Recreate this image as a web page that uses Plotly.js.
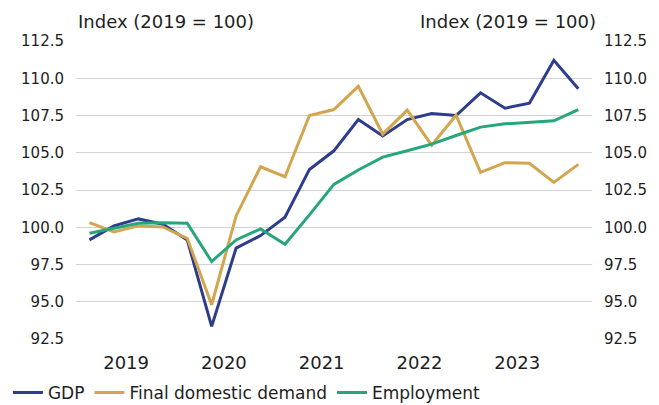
<!DOCTYPE html>
<html>
<head>
<meta charset="utf-8">
<script src="https://cdn.plot.ly/plotly-3.0.1.min.js"></script>
<style>html,body{margin:0;padding:0;background:#fff;}#chart{width:659px;height:405px;}</style>
</head>
<body>
<div id="chart"></div>
<script>
const quarters = ['2019Q1','2019Q2','2019Q3','2019Q4','2020Q1','2020Q2','2020Q3','2020Q4','2021Q1','2021Q2','2021Q3','2021Q4','2022Q1','2022Q2','2022Q3','2022Q4','2023Q1','2023Q2','2023Q3','2023Q4','2024Q1'];
const gdp = [99.15,100.09,100.56,100.2,99.15,93.35,98.6,99.44,100.67,103.88,105.13,107.23,106.12,107.23,107.63,107.5,109.02,107.99,108.33,111.2,109.29];
const finalDemand = [100.31,99.69,100.09,100.02,99.26,94.8,100.76,104.06,103.39,107.5,107.9,109.46,106.25,107.86,105.51,107.52,103.68,104.33,104.29,103.01,104.22];
const employment = [99.6,99.93,100.27,100.31,100.27,97.7,99.15,99.89,98.86,100.83,102.88,103.84,104.71,105.13,105.58,106.16,106.72,106.94,107.05,107.14,107.9];
const yearLabels = ['2019','2020','2021','2022','2023'];
const yTicks = [92.5,95,97.5,100,102.5,105,107.5,110,112.5];
const axisTitle = 'Index (2019 = 100)';

const xIdx = quarters.map((q, i) => i);
// year label sits at the middle of each year's four quarters
const yearPos = yearLabels.map(y => {
  const idx = quarters.map((q, i) => q.startsWith(y) ? i : -1).filter(i => i >= 0);
  return (idx[0] + idx[idx.length - 1]) / 2;
});

const FONT = 'DejaVu Sans, sans-serif';
const TXT = '#1e1e1e';

const traces = [
  {x: xIdx, y: gdp, name: 'GDP', type: 'scatter', mode: 'lines', line: {color: '#2e3d8b', width: 3}, hoverinfo: 'skip'},
  {x: xIdx, y: finalDemand, name: 'Final domestic demand', type: 'scatter', mode: 'lines', line: {color: '#d2a64f', width: 3}, hoverinfo: 'skip'},
  {x: xIdx, y: employment, name: 'Employment', type: 'scatter', mode: 'lines', line: {color: '#26a77b', width: 3}, hoverinfo: 'skip'},
  {x: xIdx, y: gdp, yaxis: 'y2', type: 'scatter', mode: 'lines', line: {width: 0}, opacity: 0, showlegend: false, hoverinfo: 'skip'}
];

const yBase = {
  range: [92.5, 112.5], tickvals: yTicks, ticktext: yTicks.map(v => v.toFixed(1)),
  showgrid: true, gridcolor: '#d3d3d3', gridwidth: 1, zeroline: false, showline: false,
  ticks: '', ticklabelstandoff: 11, tickfont: {family: FONT, size: 15, color: TXT}, fixedrange: true
};

const layout = {
  width: 659, height: 405,
  margin: {l: 76, r: 67, t: 41, b: 66, pad: 0},
  paper_bgcolor: '#fff', plot_bgcolor: '#fff',
  font: {family: FONT, color: TXT},
  showlegend: true,
  legend: {orientation: 'h', xref: 'container', yref: 'container', x: 0.012, y: 0.03, xanchor: 'left', yanchor: 'middle',
           font: {family: FONT, size: 17, color: TXT}, itemwidth: 30, tracegroupgap: 0, bgcolor: 'rgba(0,0,0,0)'},
  xaxis: {range: [-0.55, 20.56], tickvals: yearPos, ticktext: yearLabels, showgrid: false, zeroline: false, showline: false,
          ticks: '', ticklabelstandoff: 11, tickfont: {family: FONT, size: 18, color: TXT}, fixedrange: true},
  yaxis: Object.assign({}, yBase, {side: 'left'}),
  yaxis2: Object.assign({}, yBase, {side: 'right', overlaying: 'y', showgrid: false}),
  annotations: [
    {text: axisTitle, xref: 'paper', yref: 'paper', x: 0, y: 1, xanchor: 'left', yanchor: 'middle', yshift: 20, showarrow: false,
     font: {family: FONT, size: 18, color: TXT}},
    {text: axisTitle, xref: 'paper', yref: 'paper', x: 1, y: 1, xanchor: 'right', yanchor: 'middle', yshift: 20, xshift: 6, showarrow: false,
     font: {family: FONT, size: 18, color: TXT}}
  ]
};

Plotly.newPlot('chart', traces, layout, {displayModeBar: false, staticPlot: true});
</script>
</body>
</html>
